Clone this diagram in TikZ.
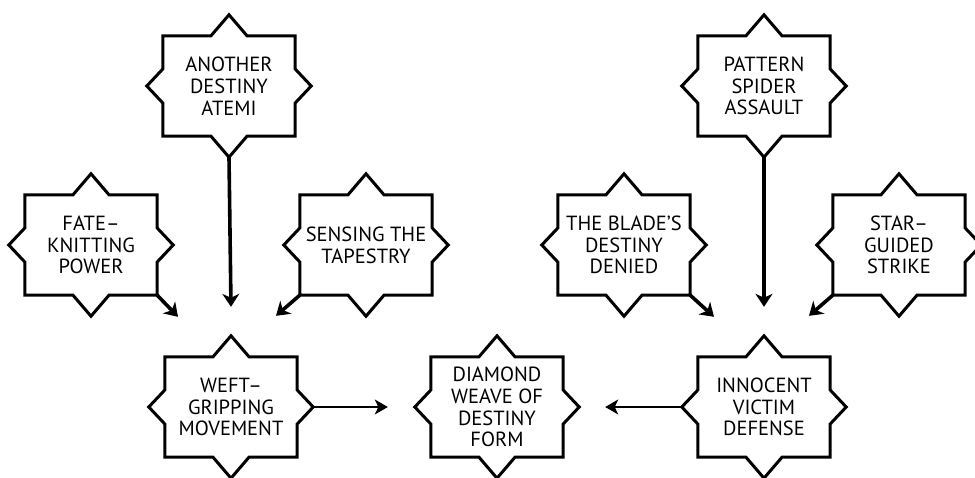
\documentclass[tikz,border=0pt]{standalone}
\usepackage{fontspec}
\setmainfont{PT Sans}
\usetikzlibrary{arrows.meta}

\newcommand{\boxfont}{\fontsize{20.5}{21.7}\selectfont}

\tikzset{
  outline/.style={line width=3pt, line join=miter},
  starbox/.style={
    rectangle, minimum width=132pt, minimum height=100pt, inner sep=0pt,
    align=center, font=\boxfont,
    append after command={\pgfextra{
      \draw[outline]
        (\tikzlastnode.north west) -- ([xshift=-18pt]\tikzlastnode.north)
        -- ([yshift=21pt]\tikzlastnode.north) -- ([xshift=18pt]\tikzlastnode.north)
        -- (\tikzlastnode.north east) -- ([yshift=17pt]\tikzlastnode.east)
        -- ([xshift=16pt]\tikzlastnode.east) -- ([yshift=-17pt]\tikzlastnode.east)
        -- (\tikzlastnode.south east) -- ([xshift=18pt]\tikzlastnode.south)
        -- ([yshift=-21pt]\tikzlastnode.south) -- ([xshift=-18pt]\tikzlastnode.south)
        -- (\tikzlastnode.south west) -- ([yshift=-17pt]\tikzlastnode.west)
        -- ([xshift=-16pt]\tikzlastnode.west) -- ([yshift=17pt]\tikzlastnode.west)
        -- cycle;}}},
  heavy/.style={line width=3.6pt, -{Stealth[length=13pt, width=17pt, inset=4pt]}},
  light/.style={line width=1.3pt, -{Stealth[length=13pt, width=15pt, inset=3.5pt]}}
}

\begin{document}
\begin{tikzpicture}[x=1pt, y=-1pt]
  \useasboundingbox (0,0) rectangle (975,477);

  % upper rows
  \node[starbox] (another) at (229,86)  {ANOTHER\\DESTINY\\ATEMI};
  \node[starbox] (pattern) at (764,86)  {PATTERN\\SPIDER\\ASSAULT};
  \node[starbox] (fate)    at (91,245)  {FATE–\\KNITTING\\POWER};
  \node[starbox] (sense)   at (366,245) {SENSING THE\\TAPESTRY};
  \node[starbox] (blade)   at (624,245) {THE BLADE’S\\DESTINY\\DENIED};
  \node[starbox] (star)    at (899,245) {STAR–\\GUIDED\\STRIKE};

  % bottom row
  \node[starbox] (weft)     at (231,407) {WEFT–\\GRIPPING\\MOVEMENT};
  \node[starbox] (diamond)  at (497,407) {DIAMOND\\WEAVE OF\\DESTINY\\FORM};
  \node[starbox] (innocent) at (764,407) {INNOCENT\\VICTIM\\DEFENSE};

  % feeders into the left technique
  \draw[heavy] ([yshift=-21pt]another.south) -- ([yshift=50pt]weft.north);
  \draw[heavy] (fate.south east) -- ([shift={(-53pt,40pt)}]weft.north);
  \draw[heavy] (sense.south west) -- ([shift={(45pt,41pt)}]weft.north);

  % feeders into the right technique
  \draw[heavy] ([yshift=-21pt]pattern.south) -- ([yshift=50pt]innocent.north);
  \draw[heavy] (blade.south east) -- ([shift={(-50pt,40pt)}]innocent.north);
  \draw[heavy] (star.south west) -- ([shift={(45pt,41pt)}]innocent.north);

  % both lead to the central form
  \draw[light] ([xshift=16pt]weft.east) -- ([xshift=-43pt]diamond.west);
  \draw[light] ([xshift=-16pt]innocent.west) -- ([xshift=42pt]diamond.east);
\end{tikzpicture}
\end{document}
